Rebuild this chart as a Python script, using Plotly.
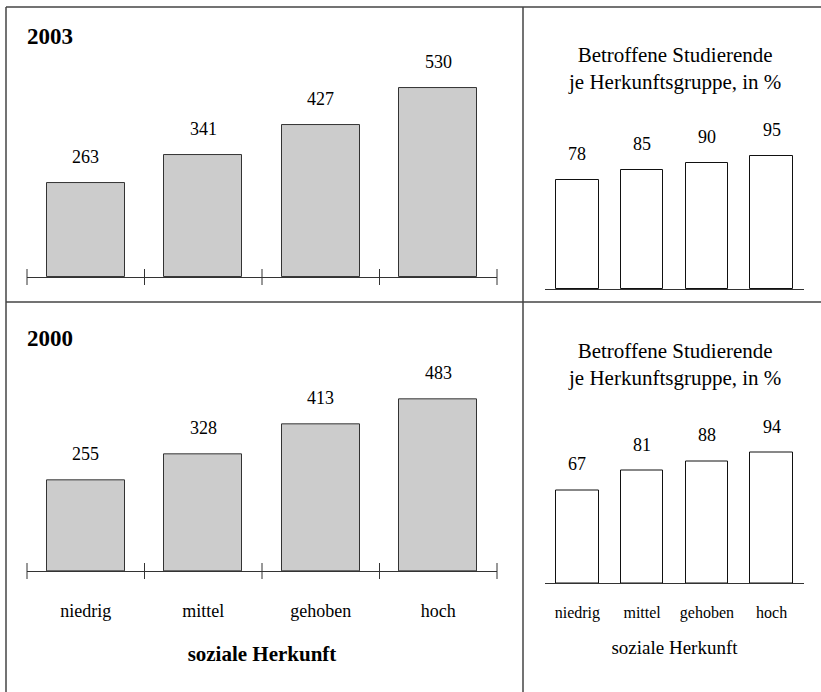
import plotly.graph_objects as go

W, H = 821, 692

categories = ["niedrig", "mittel", "gehoben", "hoch"]
counts_2003 = [263, 341, 427, 530]
counts_2000 = [255, 328, 413, 483]
share_2003 = [78, 85, 90, 95]
share_2000 = [67, 81, 88, 94]
years = ["2003", "2000"]
right_title = "Betroffene Studierende<br>je Herkunftsgruppe, in %"
axis_title = "soziale Herkunft"

FONT = "Liberation Serif, Tinos, Times New Roman, Times, DejaVu Serif, serif"
LINE = "#333333"

def px_x(p):
    return p / W

def px_y(p):
    return 1 - p / H

xpos = list(range(len(categories)))
n = len(categories)

fig = go.Figure()

# Left panels (absolute counts)
fig.add_trace(go.Bar(x=xpos, y=counts_2003, width=0.66, marker=dict(color="#cccccc", line=dict(color=LINE, width=1)),
                     xaxis="x", yaxis="y", showlegend=False, hoverinfo="skip"))
fig.add_trace(go.Bar(x=xpos, y=counts_2000, width=0.66, marker=dict(color="#cccccc", line=dict(color=LINE, width=1)),
                     xaxis="x3", yaxis="y3", showlegend=False, hoverinfo="skip"))
# Right panels (percent)
fig.add_trace(go.Bar(x=xpos, y=share_2003, width=0.66, marker=dict(color="white", line=dict(color="#111111", width=1)),
                     xaxis="x2", yaxis="y2", showlegend=False, hoverinfo="skip"))
fig.add_trace(go.Bar(x=xpos, y=share_2000, width=0.66, marker=dict(color="white", line=dict(color="#111111", width=1)),
                     xaxis="x4", yaxis="y4", showlegend=False, hoverinfo="skip"))

left_dom = [px_x(27), px_x(497)]
right_dom = [px_x(545), px_x(804)]

def xax(domain, anchor, labels=False, size=18, title=None, tsize=21, bold=False, standoff=28, tstand=20):
    d = dict(domain=domain, anchor=anchor, range=[-0.5, n - 0.5], showgrid=False, zeroline=False,
             showline=True, linecolor=LINE, linewidth=1, ticks="", fixedrange=True,
             tickmode="array", tickvals=xpos, ticktext=categories, showticklabels=labels,
             tickfont=dict(family=FONT, size=size, color="black"), ticklabelstandoff=standoff)
    if title:
        d["title"] = dict(text=("<b>%s</b>" % title) if bold else title,
                          font=dict(family=FONT, size=tsize, color="black"), standoff=tstand)
    return d

def yax(domain, anchor, rng):
    return dict(domain=domain, anchor=anchor, range=rng, visible=False, fixedrange=True)

fig.update_layout(
    width=W, height=H, margin=dict(l=0, r=0, t=0, b=0),
    paper_bgcolor="white", plot_bgcolor="rgba(0,0,0,0)",
    font=dict(family=FONT, color="black"),
    bargap=0,
    xaxis=xax(left_dom, "y"),
    yaxis=yax([px_y(277), px_y(277 - 600 * 0.3566)], "x", [0, 600]),
    xaxis3=xax(left_dom, "y3", labels=True, size=18, title=axis_title, tsize=21, bold=True, standoff=23, tstand=26),
    yaxis3=yax([px_y(571), px_y(571 - 600 * 0.3561)], "x3", [0, 600]),
    xaxis2=xax(right_dom, "y2"),
    yaxis2=yax([px_y(289), px_y(289 - 100 * 1.40)], "x2", [0, 100]),
    xaxis4=xax(right_dom, "y4", labels=True, size=16, title=axis_title, tsize=19, bold=False, standoff=15, tstand=19),
    yaxis4=yax([px_y(583), px_y(583 - 100 * 1.385)], "x4", [0, 100]),
)

annotations = []
shapes = []

# value labels
for xa, ya, vals in [("x", "y", counts_2003), ("x3", "y3", counts_2000),
                     ("x2", "y2", share_2003), ("x4", "y4", share_2000)]:
    for i, v in enumerate(vals):
        annotations.append(dict(x=i, y=v, xref=xa, yref=ya, text=str(v), showarrow=False,
                                yanchor="middle", yshift=26,
                                font=dict(family=FONT, size=18, color="black")))

# year labels
for yr, ypx in zip(years, [37, 338]):
    annotations.append(dict(x=px_x(25), y=px_y(ypx), xref="paper", yref="paper", text="<b>%s</b>" % yr,
                            showarrow=False, xanchor="left", yanchor="middle",
                            font=dict(family=FONT, size=23, color="black")))

# right titles
for xa, ypx in [("x2", 69), ("x4", 364)]:
    annotations.append(dict(x=0.5, y=px_y(ypx), xref=xa + " domain", yref="paper", text=right_title,
                            showarrow=False, xanchor="center", yanchor="middle", align="center",
                            font=dict(family=FONT, size=21, color="black")))

# category boundary tick marks on left axes (crossing the baseline)
for xa, ya in [("x", "y"), ("x3", "y3")]:
    for k in range(n + 1):
        b = k / n
        shapes.append(dict(type="line", xref=xa + " domain", yref=ya + " domain", x0=b, x1=b,
                           ysizemode="pixel", yanchor=0, y0=-8, y1=8,
                           line=dict(color=LINE, width=1)))

# frame lines
frame = dict(color="#444444", width=1.5)
shapes.append(dict(type="line", xref="paper", yref="paper", x0=px_x(6), x1=1.01, y0=px_y(7), y1=px_y(7), line=frame))
shapes.append(dict(type="line", xref="paper", yref="paper", x0=px_x(6), x1=px_x(6), y0=px_y(7), y1=-0.01, line=frame))
shapes.append(dict(type="line", xref="paper", yref="paper", x0=px_x(523), x1=px_x(523), y0=px_y(7), y1=-0.01, line=frame))
shapes.append(dict(type="line", xref="paper", yref="paper", x0=px_x(6), x1=1.01, y0=px_y(302), y1=px_y(302), line=frame))

fig.update_layout(annotations=annotations, shapes=shapes)

fig.write_html("out.html", config={"displayModeBar": False},
               post_script="document.body.style.margin='0px';")
